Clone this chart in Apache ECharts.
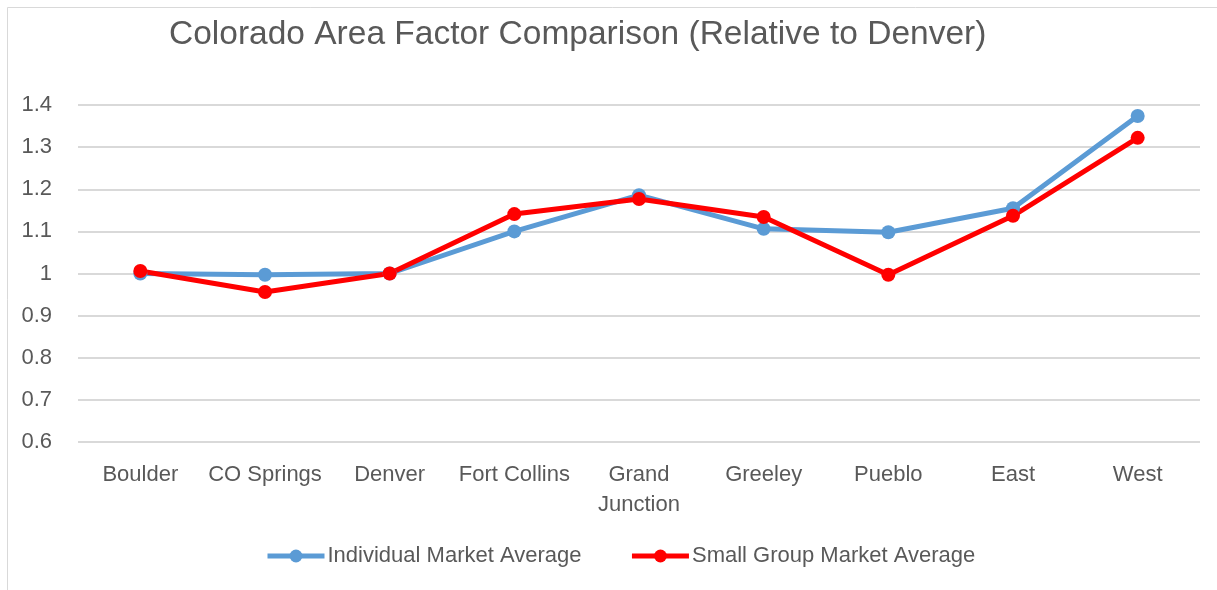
<!DOCTYPE html>
<html>
<head>
<meta charset="utf-8">
<title>Colorado Area Factor Comparison</title>
<script src="https://cdn.jsdelivr.net/npm/echarts@6/dist/echarts.min.js"></script>
<style>
  html, body { margin: 0; padding: 0; background: #fff; }
  #chart { width: 1217px; height: 590px; }
</style>
</head>
<body>
<div id="chart"></div>
<script>
// --- data ------------------------------------------------------------------
const regions = ["Boulder", "CO Springs", "Denver", "Fort Collins", "Grand\nJunction", "Greeley", "Pueblo", "East", "West"];
const individualAvg = [1.0, 0.997, 1.0, 1.1, 1.186, 1.106, 1.098, 1.155, 1.374];
const smallGroupAvg = [1.006, 0.956, 1.0, 1.141, 1.177, 1.134, 0.997, 1.137, 1.322];

const FONT = "'Liberation Sans Narrow', 'Liberation Sans', sans-serif";
const TEXT = "#595959";
const GRID = "#d9d9d9";

const chart = echarts.init(document.getElementById("chart"), null, { renderer: "canvas" });

function lineSeries(name, data, color) {
  return {
    name,
    type: "line",
    data,
    symbol: "circle",
    symbolSize: 14,
    lineStyle: { color, width: 5 },
    itemStyle: { color },
    animation: false,
  };
}

chart.setOption({
  backgroundColor: "#fff",
  textStyle: { fontFamily: FONT },
  graphic: [
    { type: "rect", shape: { x: 7.5, y: 7.5, width: 1230, height: 600 }, style: { fill: "none", stroke: GRID, lineWidth: 1 }, silent: true },
  ],
  title: {
    text: "Colorado Area Factor Comparison (Relative to Denver)",
    left: 164,
    top: 13,
    textStyle: { fontFamily: FONT, fontSize: 33.5, fontWeight: "normal", color: TEXT },
  },
  legend: {
    bottom: 18,
    left: 260,
    itemWidth: 57,
    itemHeight: 16,
    itemGap: 48,
    lineStyle: { width: 5 },
    textStyle: { fontFamily: FONT, fontSize: 22, color: TEXT, padding: [0, 0, 0, -2] },
    data: ["Individual Market Average", "Small Group Market Average"],
  },
  grid: { left: 78, right: 17, top: 105, bottom: 148 },
  xAxis: {
    type: "category",
    data: regions,
    boundaryGap: true,
    axisLine: { show: false },
    axisTick: { show: false },
    axisLabel: { color: TEXT, fontFamily: FONT, fontSize: 22, margin: 18, lineHeight: 30, interval: 0 },
  },
  yAxis: {
    type: "value",
    min: 0.6,
    max: 1.4,
    interval: 0.1,
    axisLine: { show: false },
    axisTick: { show: false },
    splitLine: { lineStyle: { color: GRID, width: 2 } },
    axisLabel: { color: TEXT, fontFamily: FONT, fontSize: 22, margin: 26, formatter: (v) => String(Math.round(v * 10) / 10) },
  },
  series: [
    lineSeries("Individual Market Average", individualAvg, "#5B9BD5"),
    lineSeries("Small Group Market Average", smallGroupAvg, "#FF0000"),
  ],
});
</script>
</body>
</html>
